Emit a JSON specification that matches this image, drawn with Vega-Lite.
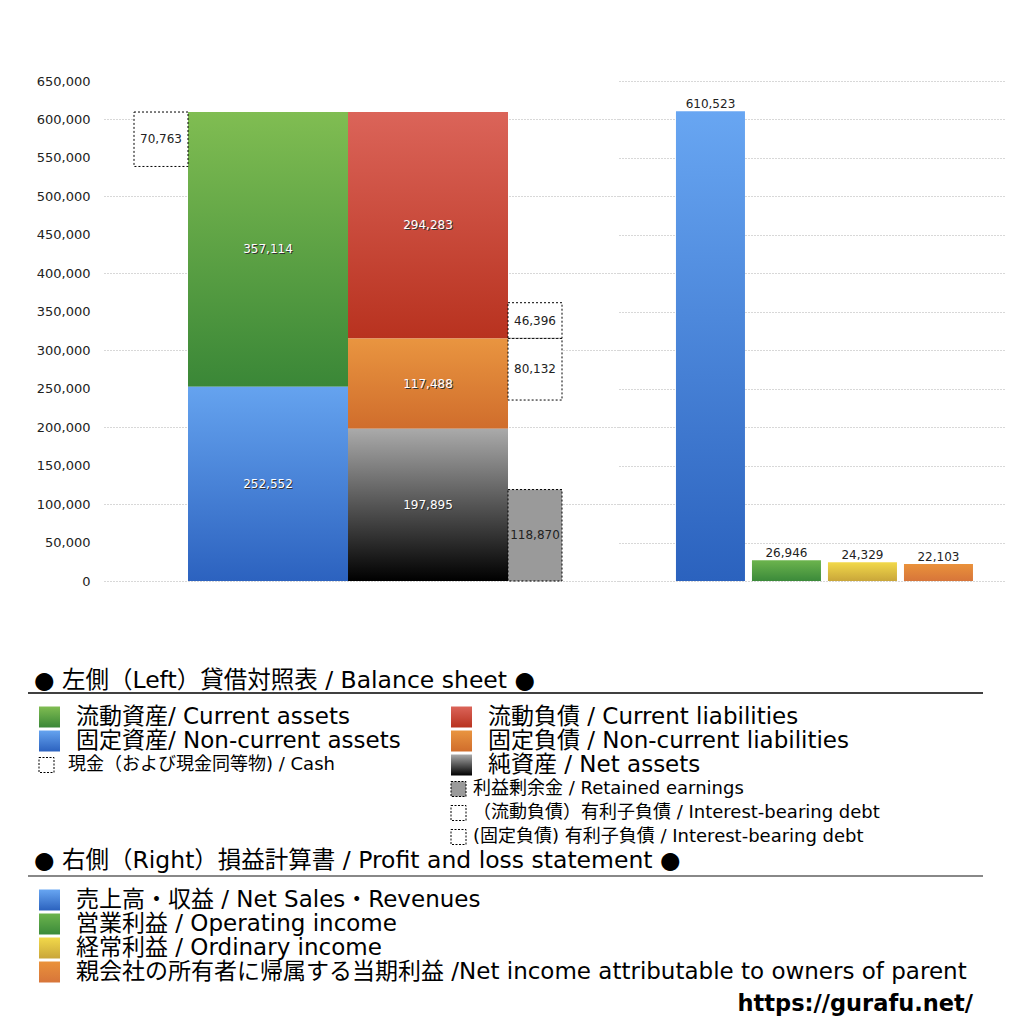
{
  "$schema": "https://vega.github.io/schema/vega-lite/v6.json",
  "padding": {"left": 27, "top": 75, "right": 5, "bottom": 5},
  "spacing": 0,
  "title": {"text": "https://gurafu.net/", "orient": "bottom", "anchor": "end", "fontSize": 22.5, "fontWeight": "bold", "color": "#000000", "offset": 9, "dx": -33},
  "config": {
    "view": {"stroke": null},
    "font": "DejaVu Sans, Noto Sans CJK JP",
    "axisY": {"domain": false, "ticks": false, "gridColor": "#b0b0b0", "gridDash": [1, 2], "gridWidth": 1, "labelFontSize": 13, "labelColor": "#222222", "labelPadding": 14}
  },
  "datasets": {
    "bs": [
      {"column": "資産", "item": "固定資産", "kind": "block", "value": 252552, "low": 0, "high": 252552},
      {"column": "資産", "item": "流動資産", "kind": "block", "value": 357114, "low": 252552, "high": 609666},
      {"column": "資産", "item": "現金", "kind": "cash", "value": 70763, "low": 538903, "high": 609666},
      {"column": "負債・純資産", "item": "純資産", "kind": "block", "value": 197895, "low": 0, "high": 197895},
      {"column": "負債・純資産", "item": "固定負債", "kind": "block", "value": 117488, "low": 197895, "high": 315383},
      {"column": "負債・純資産", "item": "流動負債", "kind": "block", "value": 294283, "low": 315383, "high": 609666},
      {"column": "負債・純資産", "item": "利益剰余金", "kind": "box", "value": 118870, "low": 0, "high": 118870},
      {"column": "負債・純資産", "item": "有利子負債（流動）", "kind": "box", "value": 46396, "low": 315383, "high": 361779},
      {"column": "負債・純資産", "item": "有利子負債（固定）", "kind": "box", "value": 80132, "low": 235251, "high": 315383}
    ],
    "pl": [
      {"item": "売上高", "value": 610523},
      {"item": "営業利益", "value": 26946},
      {"item": "経常利益", "value": 24329},
      {"item": "当期利益", "value": 22103}
    ],
    "bsLegend": [
      {"kind": "heading", "col": "left", "rank": 0, "key": "", "label": "● 左側（Left）貸借対照表 / Balance sheet ●"},
      {"kind": "big", "col": "left", "rank": 1, "key": "流動資産", "label": "流動資産/ Current assets"},
      {"kind": "big", "col": "left", "rank": 2, "key": "固定資産", "label": "固定資産/ Non-current assets"},
      {"kind": "small", "col": "left", "rank": 3, "key": "現金", "label": "現金（および現金同等物) / Cash"},
      {"kind": "big", "col": "right", "rank": 1, "key": "流動負債", "label": "流動負債 /  Current liabilities"},
      {"kind": "big", "col": "right", "rank": 2, "key": "固定負債", "label": "固定負債 / Non-current liabilities"},
      {"kind": "big", "col": "right", "rank": 3, "key": "純資産", "label": "純資産 / Net assets"},
      {"kind": "small", "col": "right", "rank": 4, "key": "利益剰余金", "label": "利益剰余金 / Retained earnings"},
      {"kind": "small", "col": "right", "rank": 5, "key": "有利子負債（流動）", "label": " （流動負債）有利子負債 / Interest-bearing debt"},
      {"kind": "small", "col": "right", "rank": 6, "key": "有利子負債（固定）", "label": "　(固定負債) 有利子負債 / Interest-bearing debt"}
    ],
    "plLegend": [
      {"kind": "heading", "col": "left", "rank": 0, "key": "", "label": "● 右側（Right）損益計算書 / Profit and loss statement ●"},
      {"kind": "big", "col": "left", "rank": 1, "key": "売上高", "label": "売上高・収益 / Net Sales・Revenues"},
      {"kind": "big", "col": "left", "rank": 2, "key": "営業利益", "label": "営業利益 / Operating income"},
      {"kind": "big", "col": "left", "rank": 3, "key": "経常利益", "label": "経常利益 / Ordinary income"},
      {"kind": "big", "col": "left", "rank": 4, "key": "当期利益", "label": "親会社の所有者に帰属する当期利益 /Net income attributable to owners of parent"}
    ]
  },
  "vconcat": [
    {
      "spacing": 0,
      "hconcat": [
        {
          "width": 76,
          "height": 500,
          "data": {"name": "bs"},
          "mark": {"type": "point", "opacity": 0},
          "encoding": {
            "y": {"field": "high", "type": "quantitative", "title": null, "scale": {"domain": [0, 650000], "nice": false}, "axis": {"values": [0, 50000, 100000, 150000, 200000, 250000, 300000, 350000, 400000, 450000, 500000, 550000, 600000, 650000], "format": ",d", "offset": -76, "grid": false, "title": null}}
          }
        },
        {
          "width": 515,
          "height": 500,
          "data": {"name": "bs"},
          "layer": [
            {
              "encoding": {
                "x": {"field": "column", "type": "nominal", "scale": {"type": "band", "domain": ["資産", "負債・純資産"], "paddingInner": 0, "paddingOuter": 0.609375, "align": 0.4308}, "axis": null},
                "y": {"field": "low", "type": "quantitative", "title": null, "scale": {"domain": [0, 650000], "nice": false}, "axis": {"values": [0, 50000, 100000, 150000, 200000, 250000, 300000, 350000, 400000, 450000, 500000, 550000, 600000, 650000], "labels": false, "grid": true, "title": null}},
                "y2": {"field": "high"}
              },
              "layer": [
                {"transform": [{"filter": "datum.item === '流動資産'"}], "mark": {"type": "bar", "fill": {"gradient": "linear", "x1": 0, "y1": 0, "x2": 0, "y2": 1, "stops": [{"offset": 0, "color": "#80bd52"}, {"offset": 1, "color": "#3a8737"}]}}},
                {"transform": [{"filter": "datum.item === '固定資産'"}], "mark": {"type": "bar", "fill": {"gradient": "linear", "x1": 0, "y1": 0, "x2": 0, "y2": 1, "stops": [{"offset": 0, "color": "#65a3ef"}, {"offset": 1, "color": "#2c62bf"}]}}},
                {"transform": [{"filter": "datum.item === '流動負債'"}], "mark": {"type": "bar", "fill": {"gradient": "linear", "x1": 0, "y1": 0, "x2": 0, "y2": 1, "stops": [{"offset": 0, "color": "#db6459"}, {"offset": 1, "color": "#b8321f"}]}}},
                {"transform": [{"filter": "datum.item === '固定負債'"}], "mark": {"type": "bar", "fill": {"gradient": "linear", "x1": 0, "y1": 0, "x2": 0, "y2": 1, "stops": [{"offset": 0, "color": "#e99540"}, {"offset": 1, "color": "#d06d2c"}]}}},
                {"transform": [{"filter": "datum.item === '純資産'"}], "mark": {"type": "bar", "fill": {"gradient": "linear", "x1": 0, "y1": 0, "x2": 0, "y2": 1, "stops": [{"offset": 0, "color": "#aaaaaa"}, {"offset": 1, "color": "#000000"}]}}},
                {"transform": [{"filter": "datum.kind === 'cash'"}], "mark": {"type": "bar", "width": 54, "xOffset": -107, "fill": "#ffffff", "stroke": "#000000", "strokeWidth": 1, "strokeDash": [2, 2]}},
                {"transform": [{"filter": "datum.item === '利益剰余金'"}], "mark": {"type": "bar", "width": 54, "xOffset": 107, "fill": "#9a9a9a", "stroke": "#000000", "strokeWidth": 1, "strokeDash": [2, 2]}},
                {"transform": [{"filter": "datum.kind === 'box' && datum.item !== '利益剰余金'"}], "mark": {"type": "bar", "width": 54, "xOffset": 107, "fill": "#ffffff", "stroke": "#000000", "strokeWidth": 1, "strokeDash": [2, 2]}}
              ]
            },
            {
              "transform": [{"filter": "datum.kind === 'block'"}, {"fold": ["low", "high"], "as": ["bound", "v"]}],
              "mark": {"type": "text", "fontSize": 12, "color": "#333333", "dx": 1, "dy": 1},
              "encoding": {
                "x": {"field": "column", "type": "nominal", "axis": null},
                "y": {"field": "v", "type": "quantitative", "aggregate": "mean", "title": null},
                "detail": {"field": "item", "type": "nominal"},
                "text": {"field": "value", "type": "quantitative", "format": ","}
              }
            },
            {
              "transform": [{"filter": "datum.kind === 'block'"}, {"fold": ["low", "high"], "as": ["bound", "v"]}],
              "mark": {"type": "text", "fontSize": 12, "color": "#ffffff"},
              "encoding": {
                "x": {"field": "column", "type": "nominal", "axis": null},
                "y": {"field": "v", "type": "quantitative", "aggregate": "mean", "title": null},
                "detail": {"field": "item", "type": "nominal"},
                "text": {"field": "value", "type": "quantitative", "format": ","}
              }
            },
            {
              "transform": [{"filter": "datum.kind === 'cash'"}, {"fold": ["low", "high"], "as": ["bound", "v"]}],
              "mark": {"type": "text", "fontSize": 12, "color": "#222222", "xOffset": -107},
              "encoding": {
                "x": {"field": "column", "type": "nominal", "axis": null},
                "y": {"field": "v", "type": "quantitative", "aggregate": "mean", "title": null},
                "detail": {"field": "item", "type": "nominal"},
                "text": {"field": "value", "type": "quantitative", "format": ","}
              }
            },
            {
              "transform": [{"filter": "datum.kind === 'box'"}, {"fold": ["low", "high"], "as": ["bound", "v"]}],
              "mark": {"type": "text", "fontSize": 12, "color": "#222222", "xOffset": 107},
              "encoding": {
                "x": {"field": "column", "type": "nominal", "axis": null},
                "y": {"field": "v", "type": "quantitative", "aggregate": "mean", "title": null},
                "detail": {"field": "item", "type": "nominal"},
                "text": {"field": "value", "type": "quantitative", "format": ","}
              }
            }
          ]
        },
        {
          "width": 387,
          "height": 500,
          "data": {"name": "pl"},
          "layer": [
            {
              "encoding": {
                "x": {"field": "item", "type": "nominal", "sort": null, "scale": {"type": "band", "domain": ["売上高", "営業利益", "経常利益", "当期利益"], "paddingInner": 0.0921, "paddingOuter": 0.592, "align": 0.633}, "axis": null},
                "y": {"field": "value", "type": "quantitative", "title": null, "scale": {"domain": [0, 650000], "nice": false}, "axis": {"values": [0, 50000, 100000, 150000, 200000, 250000, 300000, 350000, 400000, 450000, 500000, 550000, 600000, 650000], "labels": false, "grid": true, "title": null}}
              },
              "layer": [
                {"transform": [{"filter": "datum.item === '売上高'"}], "mark": {"type": "bar", "fill": {"gradient": "linear", "x1": 0, "y1": 0, "x2": 0, "y2": 1, "stops": [{"offset": 0, "color": "#68a6f2"}, {"offset": 1, "color": "#2b62be"}]}}},
                {"transform": [{"filter": "datum.item === '営業利益'"}], "mark": {"type": "bar", "fill": {"gradient": "linear", "x1": 0, "y1": 0, "x2": 0, "y2": 1, "stops": [{"offset": 0, "color": "#6cb44d"}, {"offset": 1, "color": "#3b8a3a"}]}}},
                {"transform": [{"filter": "datum.item === '経常利益'"}], "mark": {"type": "bar", "fill": {"gradient": "linear", "x1": 0, "y1": 0, "x2": 0, "y2": 1, "stops": [{"offset": 0, "color": "#f2d94a"}, {"offset": 1, "color": "#c9a63a"}]}}},
                {"transform": [{"filter": "datum.item === '当期利益'"}], "mark": {"type": "bar", "fill": {"gradient": "linear", "x1": 0, "y1": 0, "x2": 0, "y2": 1, "stops": [{"offset": 0, "color": "#ea923b"}, {"offset": 1, "color": "#d7753a"}]}}},
                {"mark": {"type": "text", "fontSize": 12, "color": "#222222", "baseline": "bottom", "dy": 0}, "encoding": {"text": {"field": "value", "type": "quantitative", "format": ","}}}
              ]
            }
          ]
        }
      ]
    },
    {
      "width": 955,
      "height": 261,
      "data": {"name": "bsLegend"},
      "encoding": {
        "x": {"field": "col", "type": "nominal", "bandPosition": 0, "axis": null, "scale": {"type": "band", "domain": ["left", "right"], "paddingInner": 0, "paddingOuter": 0.15898, "align": 0.08397}},
        "y": {"field": "rank", "type": "ordinal", "bandPosition": 0.5, "axis": null, "scale": {"type": "band", "domain": [-3, -2, -1, 0, 1, 2, 3, 4, 5, 6], "paddingInner": 0, "paddingOuter": 0.4375, "align": 1}}
      },
      "layer": [
        {"transform": [{"filter": "datum.kind === 'heading'"}], "mark": {"type": "rule", "color": "#000000", "strokeWidth": 1.5}, "encoding": {"x": null}},
        {"transform": [{"filter": "datum.kind === 'heading'"}], "mark": {"type": "text", "align": "left", "baseline": "middle", "dx": -5, "dy": -12, "fontSize": 23.5, "color": "#000000"}, "encoding": {"text": {"field": "label"}}},
        {"transform": [{"filter": "datum.key === '流動資産'"}], "mark": {"type": "square", "size": 441, "xOffset": 10.5, "opacity": 1, "fill": {"gradient": "linear", "x1": 0, "y1": 0, "x2": 0, "y2": 1, "stops": [{"offset": 0, "color": "#80bd52"}, {"offset": 1, "color": "#3a8737"}]}}},
        {"transform": [{"filter": "datum.key === '固定資産'"}], "mark": {"type": "square", "size": 441, "xOffset": 10.5, "opacity": 1, "fill": {"gradient": "linear", "x1": 0, "y1": 0, "x2": 0, "y2": 1, "stops": [{"offset": 0, "color": "#65a3ef"}, {"offset": 1, "color": "#2c62bf"}]}}},
        {"transform": [{"filter": "datum.key === '流動負債'"}], "mark": {"type": "square", "size": 441, "xOffset": 10.5, "opacity": 1, "fill": {"gradient": "linear", "x1": 0, "y1": 0, "x2": 0, "y2": 1, "stops": [{"offset": 0, "color": "#db6459"}, {"offset": 1, "color": "#b8321f"}]}}},
        {"transform": [{"filter": "datum.key === '固定負債'"}], "mark": {"type": "square", "size": 441, "xOffset": 10.5, "opacity": 1, "fill": {"gradient": "linear", "x1": 0, "y1": 0, "x2": 0, "y2": 1, "stops": [{"offset": 0, "color": "#e99540"}, {"offset": 1, "color": "#d06d2c"}]}}},
        {"transform": [{"filter": "datum.key === '純資産'"}], "mark": {"type": "square", "size": 441, "xOffset": 10.5, "opacity": 1, "fill": {"gradient": "linear", "x1": 0, "y1": 0, "x2": 0, "y2": 1, "stops": [{"offset": 0, "color": "#aaaaaa"}, {"offset": 1, "color": "#000000"}]}}},
        {"transform": [{"filter": "datum.key === '利益剰余金'"}], "mark": {"type": "square", "size": 225, "xOffset": 7.5, "opacity": 1, "fill": "#9a9a9a", "stroke": "#000000", "strokeWidth": 1, "strokeDash": [2, 1.5]}},
        {"transform": [{"filter": "datum.kind === 'small' && datum.key !== '利益剰余金'"}], "mark": {"type": "square", "size": 225, "xOffset": 7.5, "opacity": 1, "fill": "#ffffff", "stroke": "#000000", "strokeWidth": 1, "strokeDash": [2, 1.5]}},
        {"transform": [{"filter": "datum.kind === 'big'"}], "mark": {"type": "text", "align": "left", "baseline": "middle", "dx": 37, "fontSize": 23, "color": "#000000"}, "encoding": {"text": {"field": "label"}}},
        {"transform": [{"filter": "datum.kind === 'small' && datum.col === 'left'"}], "mark": {"type": "text", "align": "left", "baseline": "middle", "dx": 29, "fontSize": 18, "color": "#000000"}, "encoding": {"text": {"field": "label"}}},
        {"transform": [{"filter": "datum.kind === 'small' && datum.col === 'right'"}], "mark": {"type": "text", "align": "left", "baseline": "middle", "dx": 22, "fontSize": 18, "color": "#000000"}, "encoding": {"text": {"field": "label"}}}
      ]
    },
    {
      "width": 955,
      "height": 134,
      "data": {"name": "plLegend"},
      "encoding": {
        "x": {"field": "col", "type": "nominal", "bandPosition": 0, "axis": null, "scale": {"type": "band", "domain": ["left", "right"], "paddingInner": 0, "paddingOuter": 0.15898, "align": 0.08397}},
        "y": {"field": "rank", "type": "ordinal", "bandPosition": 0.5, "axis": null, "scale": {"type": "band", "domain": [0, 1, 2, 3, 4], "paddingInner": 0, "paddingOuter": 0.2917, "align": 1}}
      },
      "layer": [
        {"transform": [{"filter": "datum.kind === 'heading'"}], "mark": {"type": "rule", "color": "#888888", "strokeWidth": 2}, "encoding": {"x": null}},
        {"transform": [{"filter": "datum.kind === 'heading'"}], "mark": {"type": "text", "align": "left", "baseline": "middle", "dx": -5, "dy": -15, "fontSize": 23.5, "color": "#000000"}, "encoding": {"text": {"field": "label"}}},
        {"transform": [{"filter": "datum.key === '売上高'"}], "mark": {"type": "square", "size": 441, "xOffset": 10.5, "opacity": 1, "fill": {"gradient": "linear", "x1": 0, "y1": 0, "x2": 0, "y2": 1, "stops": [{"offset": 0, "color": "#68a6f2"}, {"offset": 1, "color": "#2b62be"}]}}},
        {"transform": [{"filter": "datum.key === '営業利益'"}], "mark": {"type": "square", "size": 441, "xOffset": 10.5, "opacity": 1, "fill": {"gradient": "linear", "x1": 0, "y1": 0, "x2": 0, "y2": 1, "stops": [{"offset": 0, "color": "#6cb44d"}, {"offset": 1, "color": "#3b8a3a"}]}}},
        {"transform": [{"filter": "datum.key === '経常利益'"}], "mark": {"type": "square", "size": 441, "xOffset": 10.5, "opacity": 1, "fill": {"gradient": "linear", "x1": 0, "y1": 0, "x2": 0, "y2": 1, "stops": [{"offset": 0, "color": "#f2d94a"}, {"offset": 1, "color": "#c9a63a"}]}}},
        {"transform": [{"filter": "datum.key === '当期利益'"}], "mark": {"type": "square", "size": 441, "xOffset": 10.5, "opacity": 1, "fill": {"gradient": "linear", "x1": 0, "y1": 0, "x2": 0, "y2": 1, "stops": [{"offset": 0, "color": "#ea923b"}, {"offset": 1, "color": "#d7753a"}]}}},
        {"transform": [{"filter": "datum.kind === 'big'"}], "mark": {"type": "text", "align": "left", "baseline": "middle", "dx": 37, "fontSize": 23, "color": "#000000"}, "encoding": {"text": {"field": "label"}}}
      ]
    }
  ]
}
